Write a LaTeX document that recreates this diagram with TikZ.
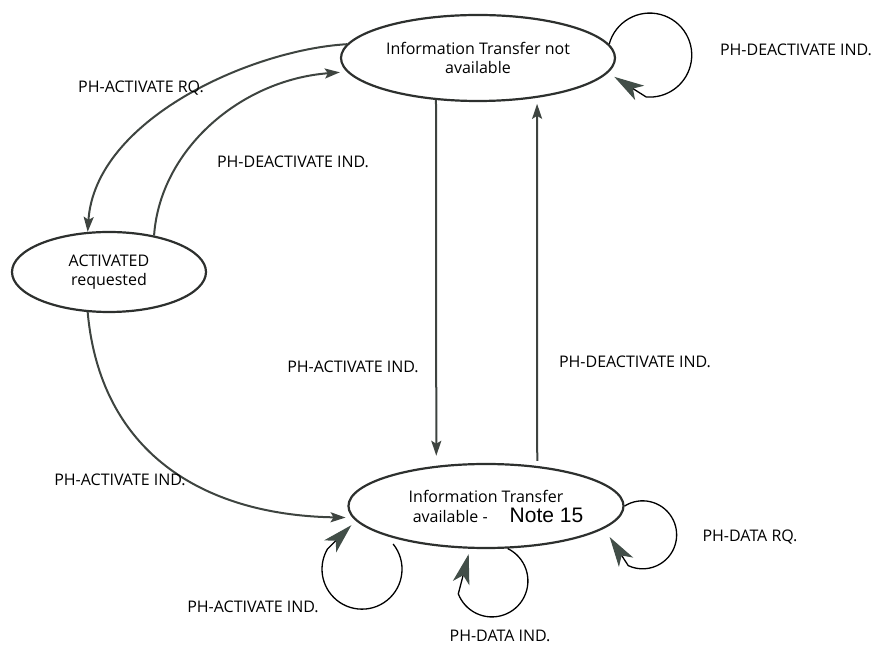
\documentclass[tikz,border=0pt]{standalone}
\usepackage{fontspec}
\setmainfont{Open Sans}
\newfontfamily\notefont{Liberation Sans}
\usetikzlibrary{shapes.geometric,arrows.meta}
\definecolor{edgec}{RGB}{45,48,46}
\definecolor{linec}{RGB}{62,68,64}
\definecolor{headc}{RGB}{66,78,72}
\newcommand{\lblfont}{\fontsize{16}{19}\selectfont}
\tikzset{
  state/.style={ellipse, draw=edgec, line width=2.2pt, inner sep=0pt, align=center,
    font=\lblfont, text=black},
  trans/.style={draw=linec, line width=2pt,
    -{Stealth[length=15pt,width=10pt,inset=3pt,color=linec]}},
  selfloop/.style={draw=black, line width=1.3pt,
    -{Stealth[length=30pt,width=17pt,inset=8pt,color=headc]}},
  lbl/.style={font=\lblfont, inner sep=0pt, text=black}
}
\begin{document}
\begin{tikzpicture}[x=1pt,y=1pt]
\useasboundingbox (0,0) rectangle (876,648);

% states
\node[state, minimum width=274pt, minimum height=86pt] (tn) at (478,590)
  {Information Transfer not\\[0pt]available};
\node[state, minimum width=194pt, minimum height=80pt] (ar) at (109,376)
  {ACTIVATED\\[0pt]requested};
\node[state, minimum width=274pt, minimum height=84pt] (ta) at (486,142)
  {Information Transfer\\[1pt]\hspace*{24pt}available -\hspace{22pt}{\notefont\fontsize{21}{22}\selectfont Note 15}};

% transitions between states
\draw[trans] (tn.174) .. controls (250,598) and (95,528) .. (ar.118);
\draw[trans, shorten >=7pt] (ar.39) .. controls (160,498) and (240,568) .. (tn.186);
\draw[trans, shorten >=10pt] (tn.225) -- (ta.141.5);
\draw[trans, shorten <=5pt, shorten >=6pt] (ta.38) -- (tn.-34);
\draw[trans, shorten >=7pt] (ar.-118) .. controls (100,198) and (200,133) .. (ta.185);

% self loops
\draw[selfloop] (tn.6) arc[start angle=165, end angle=-95, radius=42] -- ++(-31.8,20.1);
\draw[selfloop] ([yshift=-6pt]ta.199) arc[start angle=39, end angle=-210, radius=40] -- ++(24,24);
\draw[selfloop] (ta.-63) arc[start angle=64, end angle=-159, radius=36] -- ++(10.4,39.8);
\draw[selfloop] (ta.east) arc[start angle=122, end angle=-115, radius=34] -- ++(-18.6,28.6);

% transition labels
\node[lbl] (l1) at (141,560) {PH-ACTIVATE RQ.};
\node[lbl] (l2) at (293,486) {PH-DEACTIVATE IND.};
\node[lbl] (l3) at (796,598) {PH-DEACTIVATE IND.};
\node[lbl] (l4) at (353,281) {PH-ACTIVATE IND.};
\node[lbl] (l5) at (635,286) {PH-DEACTIVATE IND.};
\node[lbl] (l6) at (120,168) {PH-ACTIVATE IND.};
\node[lbl] (l7) at (750,111) {PH-DATA RQ.};
\node[lbl] (l8) at (253,41) {PH-ACTIVATE IND.};
\node[lbl] (l9) at (500,12) {PH-DATA IND.};
\end{tikzpicture}
\end{document}
